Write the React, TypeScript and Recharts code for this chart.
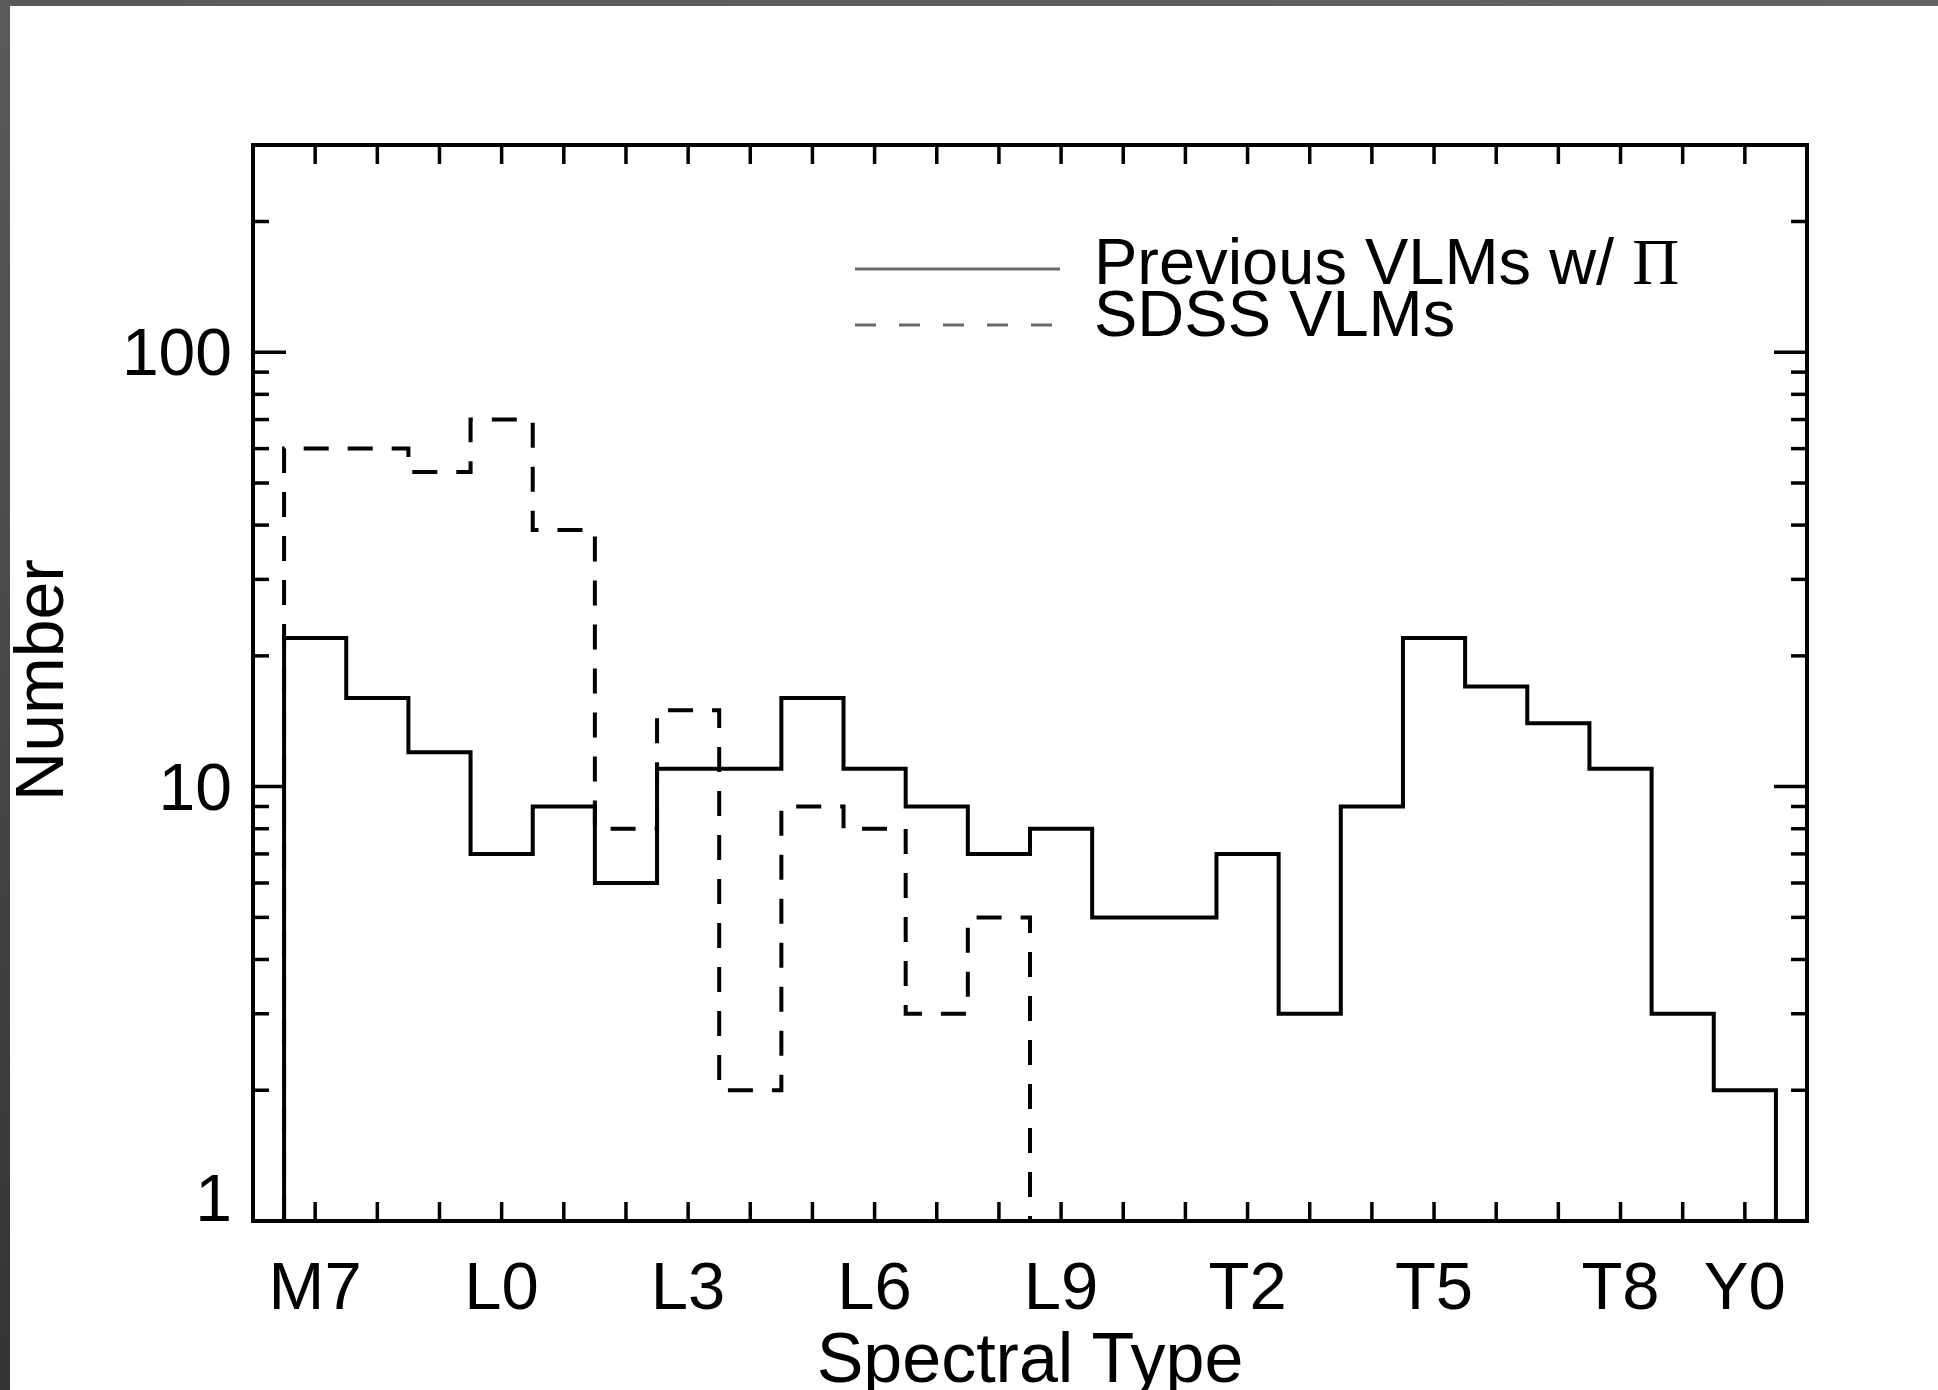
import React from 'react';
import { LineChart, Line, XAxis, YAxis, Legend } from 'recharts';

// ---- data ----
const spectralTypes = [
  'M7', 'M8', 'M9',
  'L0', 'L1', 'L2', 'L3', 'L4', 'L5', 'L6', 'L7', 'L8', 'L9',
  'T0', 'T1', 'T2', 'T3', 'T4', 'T5', 'T6', 'T7', 'T8', 'T9',
  'Y0',
];
const labeledTypes = ['M7', 'L0', 'L3', 'L6', 'L9', 'T2', 'T5', 'T8', 'Y0'];
const previousCounts = [22, 16, 12, 7, 9, 6, 11, 11, 16, 11, 9, 7, 8, 5, 5, 7, 3, 9, 22, 17, 14, 11, 3, 2];
const sdssCounts = [60, 60, 53, 70, 39, 8, 15, 2, 9, 8, 3, 5];
const seriesNames = ['Previous VLMs w/ Π', 'SDSS VLMs'];
const yTicks = [1, 2, 3, 4, 5, 6, 7, 8, 9, 10, 20, 30, 40, 50, 60, 70, 80, 90, 100, 200];
const yDomain: [number, number] = [1, 300];
const xDomain: [number, number] = [-1, spectralTypes.length];

// histogram outline (steps) built from counts, baseline at axis floor
function toSteps(counts: number[]) {
  const floor = yDomain[0];
  const pts: { x: number; y: number }[] = [{ x: -0.5, y: floor }];
  counts.forEach((c, i) => {
    pts.push({ x: i - 0.5, y: c });
    pts.push({ x: i + 0.5, y: c });
  });
  pts.push({ x: counts.length - 0.5, y: floor });
  return pts;
}
const previousSteps = toSteps(previousCounts);
const sdssSteps = toSteps(sdssCounts);
const xTicks = spectralTypes.map((_, i) => i);

const FONT = '"Liberation Sans", Arial, Helvetica, sans-serif';
const SERIF = '"Liberation Serif", "DejaVu Serif", serif';
const TICK_W = 3.5;
const DASH = '25 19';

const isDecade = (v: number) => Math.abs(Math.log10(v) - Math.round(Math.log10(v))) < 1e-9;

const BottomTick = (props: any) => {
  const { x, y, payload } = props;
  const name = spectralTypes[payload.value];
  const show = labeledTypes.includes(name);
  return (
    <g>
      <line x1={x} x2={x} y1={y} y2={y - 19} stroke="#000" strokeWidth={TICK_W} />
      {show && (
        <text x={x} y={y + 88} textAnchor="middle" fontSize={67} fontFamily={FONT} fill="#000">
          {name}
        </text>
      )}
    </g>
  );
};

const TopTick = (props: any) => {
  const { x, y } = props;
  return <line x1={x} x2={x} y1={y} y2={y + 19} stroke="#000" strokeWidth={TICK_W} />;
};

const LeftTick = (props: any) => {
  const { x, y, payload } = props;
  const v = payload.value;
  const major = isDecade(v);
  const len = major ? 33 : 16;
  const baseDy = v === yDomain[0] ? 0 : 23;
  return (
    <g>
      <line x1={x} x2={x + len} y1={y} y2={y} stroke="#000" strokeWidth={TICK_W} />
      {major && (
        <text x={x - 21} y={y + baseDy} textAnchor="end" fontSize={66} fontFamily={FONT} fill="#000">
          {String(v)}
        </text>
      )}
    </g>
  );
};

const RightTick = (props: any) => {
  const { x, y, payload } = props;
  const major = isDecade(payload.value);
  const len = major ? 33 : 16;
  return <line x1={x} x2={x - len} y1={y} y2={y} stroke="#000" strokeWidth={TICK_W} />;
};

const renderLegend = (props: any) => {
  const payload = props.payload || [];
  return (
    <svg width={900} height={140} style={{ overflow: 'visible', display: 'block' }}>
      {payload.map((entry: any, i: number) => {
        const lineY = i === 0 ? 49 : 105;
        const textY = i === 0 ? 64 : 116;
        const label: string = String(entry.value);
        const parts = label.split('Π');
        return (
          <g key={i}>
            <line
              x1={15}
              x2={220}
              y1={lineY}
              y2={lineY}
              stroke="#6a6a6a"
              strokeWidth={3}
              strokeDasharray={i === 1 ? '21 23' : undefined}
            />
            <text x={254} y={textY} fontSize={65} fontFamily={FONT} fill="#000">
              {parts[0]}
              {parts.length > 1 && (
                <tspan fontFamily={SERIF}>Π</tspan>
              )}
              {parts.length > 1 ? parts[1] : null}
            </text>
          </g>
        );
      })}
    </svg>
  );
};

export default function App() {
  return (
    <div
      style={{
        position: 'absolute',
        left: 0,
        top: 0,
        width: 1938,
        height: 1390,
        background: '#ffffff',
        overflow: 'hidden',
      }}
    >
      <div style={{ position: 'absolute', left: 0, top: 0, width: 1938, height: 6, background: 'linear-gradient(90deg, #595959, #636363)' }} />
      <div style={{ position: 'absolute', left: 0, top: 0, width: 10, height: 1390, background: 'linear-gradient(180deg, #5a5a5a, #474747 50%, #333333)' }} />
      <div style={{ position: 'absolute', left: 0, top: 0 }}>
        <LineChart width={1938} height={1390} margin={{ top: 125, right: 111, bottom: 9, left: 53 }}>
          <XAxis
            xAxisId="b"
            type="number"
            dataKey="x"
            domain={xDomain}
            allowDataOverflow
            ticks={xTicks}
            interval={0}
            height={160}
            tickSize={0}
            tickMargin={0}
            tickLine={false}
            tick={<BottomTick />}
            axisLine={{ stroke: '#000', strokeWidth: 4, strokeLinecap: 'square' }}
            label={(p: any) => {
              const vb = p && p.viewBox ? p.viewBox : { x: 253, y: 1221, width: 1554, height: 160 };
              return (
                <text x={vb.x + vb.width / 2} y={vb.y + 161} textAnchor="middle" fontSize={70} fontFamily={FONT} fill="#000">
                  Spectral Type
                </text>
              );
            }}
          />
          <XAxis
            xAxisId="t"
            orientation="top"
            type="number"
            dataKey="x"
            domain={xDomain}
            allowDataOverflow
            ticks={xTicks}
            interval={0}
            height={20}
            tickSize={0}
            tickMargin={0}
            tickLine={false}
            tick={<TopTick />}
            axisLine={{ stroke: '#000', strokeWidth: 4, strokeLinecap: 'square' }}
          />
          <YAxis
            yAxisId="l"
            type="number"
            scale="log"
            domain={yDomain}
            allowDataOverflow
            ticks={yTicks}
            interval={0}
            width={200}
            tickSize={0}
            tickMargin={0}
            tickLine={false}
            tick={<LeftTick />}
            axisLine={{ stroke: '#000', strokeWidth: 4, strokeLinecap: 'square' }}
            label={(p: any) => {
              const vb = p && p.viewBox ? p.viewBox : { x: 53, y: 145, width: 200, height: 1076 };
              const cx = 63;
              const cy = vb.y + vb.height / 2 - 3;
              return (
                <text x={cx} y={cy} transform={`rotate(-90 ${cx} ${cy})`} textAnchor="middle" fontSize={68} fontFamily={FONT} fill="#000">
                  Number
                </text>
              );
            }}
          />
          <YAxis
            yAxisId="r"
            orientation="right"
            type="number"
            scale="log"
            domain={yDomain}
            allowDataOverflow
            ticks={yTicks}
            interval={0}
            width={20}
            tickSize={0}
            tickMargin={0}
            tickLine={false}
            tick={<RightTick />}
            axisLine={{ stroke: '#000', strokeWidth: 4, strokeLinecap: 'square' }}
          />
          <Legend
            layout="vertical"
            align="center"
            verticalAlign="middle"
            content={renderLegend}
            wrapperStyle={{ position: 'absolute', left: 840, top: 220, width: 900, height: 140 }}
          />
          <Line
            xAxisId="b"
            yAxisId="l"
            data={previousSteps}
            dataKey="y"
            name={seriesNames[0]}
            type="linear"
            stroke="#000"
            strokeWidth={4}
            strokeLinejoin="miter"
            dot={false}
            activeDot={false}
            isAnimationActive={false}
          />
          <Line
            xAxisId="b"
            yAxisId="l"
            data={sdssSteps}
            dataKey="y"
            name={seriesNames[1]}
            type="linear"
            stroke="#000"
            strokeWidth={4}
            strokeDasharray={DASH}
            strokeLinejoin="miter"
            dot={false}
            activeDot={false}
            isAnimationActive={false}
          />
        </LineChart>
      </div>
    </div>
  );
}
